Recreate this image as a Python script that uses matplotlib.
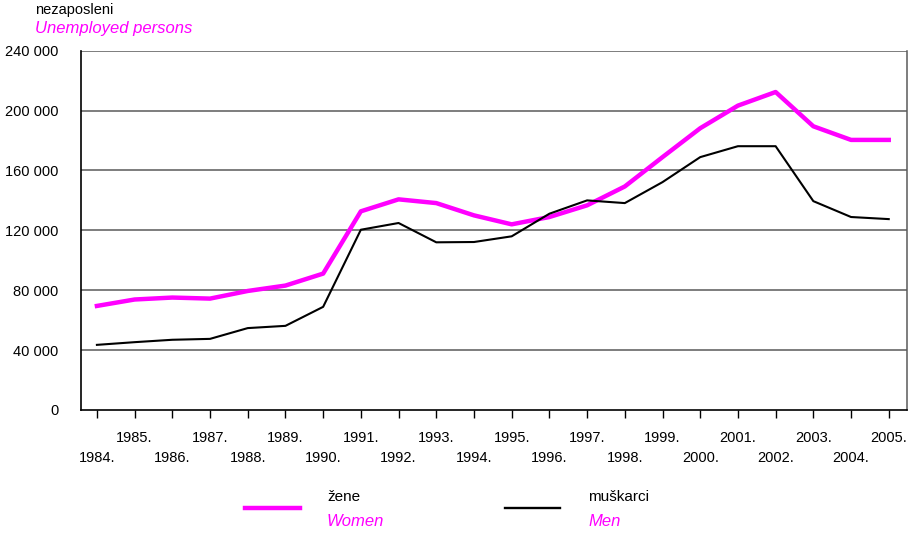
import matplotlib
matplotlib.use('Agg')
import matplotlib.pyplot as plt
from matplotlib.lines import Line2D
from matplotlib.ticker import FuncFormatter

plt.rcParams['font.family'] = ['Liberation Sans', 'DejaVu Sans']
fs = 10.5
fs_it = 12

years = list(range(1984, 2006))
women = [69500, 73800, 75100, 74400, 79500, 83100, 91100, 132700, 140700, 138200,
         130000, 124000, 128900, 136700, 149300, 168900, 188200, 203300, 212400,
         189500, 180400, 180400]
men = [43500, 45300, 46900, 47500, 54700, 56200, 68900, 120400, 124900, 112000,
       112200, 116000, 131100, 140000, 138200, 152200, 168900, 176200, 176200,
       139500, 128900, 127500]
yticks = [0, 40000, 80000, 120000, 160000, 200000, 240000]

magenta = '#ff00ff'
grid_col = '#5a5a5a'

fig = plt.figure(figsize=(9.16, 5.33), dpi=100)
ax = fig.add_axes([0.0881, 0.2308, 0.9019, 0.6741])

x = list(range(len(years)))
ax.plot(x, women, color=magenta, lw=3.2, zorder=3)
ax.plot(x, men, color='black', lw=1.5, zorder=4)

ax.set_xlim(-0.43, len(years) - 1 + 0.48)
ax.set_ylim(0, 240000)

ax.set_yticks(yticks)
ax.yaxis.set_major_formatter(FuncFormatter(lambda v, p: f'{int(v):,}'.replace(',', ' ')))
ax.tick_params(axis='y', length=0, pad=16, labelsize=fs)
for v in yticks[1:]:
    ax.axhline(v, color=grid_col, lw=1.1, zorder=1)

# alternate labels on two rows
labels = []
for i, yr in enumerate(years):
    if i % 2 == 0:
        labels.append('\n' + str(yr) + '.')
    else:
        labels.append(str(yr) + '.')
ax.set_xticks(x)
ax.set_xticklabels(labels)
ax.tick_params(axis='x', length=6, width=1, pad=9, labelsize=fs, direction='out')
for lbl in ax.get_xticklabels():
    lbl.set_linespacing(1.55)
    lbl.set_verticalalignment('top')

ax.spines['top'].set_visible(False)
ax.spines['right'].set_color(grid_col)
ax.spines['right'].set_linewidth(1.1)
ax.spines['left'].set_linewidth(1.2)
ax.spines['bottom'].set_linewidth(1.2)

# header
fig.text(35 / 916, 1 - 10 / 533, 'nezaposleni', fontsize=fs, va='center', ha='left')
fig.text(35 / 916, 1 - 29 / 533, 'Unemployed persons', fontsize=fs_it, va='center',
         ha='left', color=magenta, style='italic')

# legend
fig.add_artist(Line2D([245 / 916, 300 / 916], [1 - 508 / 533] * 2, color=magenta, lw=3.2))
fig.text(327 / 916, 1 - 497 / 533, 'žene', fontsize=fs + 0.5, va='center')
fig.text(327 / 916, 1 - 521 / 533, 'Women', fontsize=fs_it, va='center', color=magenta, style='italic')
fig.add_artist(Line2D([505 / 916, 560 / 916], [1 - 508 / 533] * 2, color='black', lw=1.7))
fig.text(588 / 916, 1 - 497 / 533, 'muškarci', fontsize=fs + 0.5, va='center')
fig.text(588 / 916, 1 - 521 / 533, 'Men', fontsize=fs_it, va='center', color=magenta, style='italic')

fig.savefig('out.png', dpi=100)
